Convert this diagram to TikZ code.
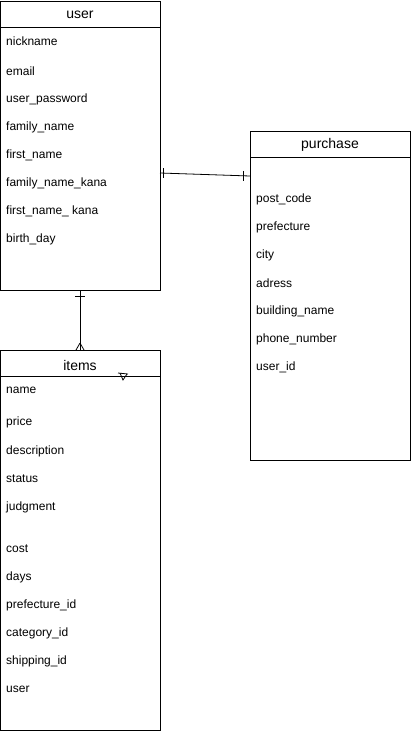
\documentclass[tikz,border=0pt]{standalone}
\usepackage{fontspec}
\setmainfont{Liberation Sans}
\usetikzlibrary{calc}
\tikzset{
  entity/.style={draw, line width=1pt, anchor=north west, minimum width=160pt, inner sep=0pt},
  header/.style={font=\fontsize{14}{16}\selectfont},
  field/.style={anchor=west, inner sep=0pt, font=\fontsize{12}{14}\selectfont},
  link/.style={line width=0.8pt}
}
\begin{document}
\begin{tikzpicture}[x=1pt,y=-1pt]
        \useasboundingbox (0,0) rectangle (411,734);
        % tables
        \node [entity, minimum height=289pt] (user) at (0,1) {};
        \node [entity, minimum height=329pt] (purchase) at (250,131) {};
        \node [entity, minimum height=380pt] (items) at (0,350) {};
        \draw [line width=1pt] ($(user.north west)+(0,26)$) -- ($(user.north east)+(0,26)$);
        \draw [line width=1pt] ($(purchase.north west)+(0,26)$) -- ($(purchase.north east)+(0,26)$);
        \draw [line width=1pt] ($(items.north west)+(0,26)$) -- ($(items.north east)+(0,26)$);
        \node [header] (user-title) at (80,15) {user};
        \node [header] (purchase-title) at (330,145) {purchase};
        \node [header] (items-title) at (80,365) {items};
        \foreach \y/\t in {41/nickname, 71/email, 99/user\_password, 127/family\_name,
            155/first\_name, 183/family\_name\_kana, 211/first\_name\_ kana, 239/birth\_day}{
          \node [field] (user-\y) at (6,\y) {\t};
        }
        \foreach \y/\t in {199/post\_code, 227/prefecture, 255/city, 283/adress,
            311/building\_name, 339/phone\_number, 367/user\_id}{
          \node [field] (purchase-\y) at (256,\y) {\t};
        }
        \foreach \y/\t in {390/name, 422/price, 451/description, 479/status, 507/judgment,
            549/cost, 577/days, 605/prefecture\_id, 633/category\_id, 661/shipping\_id, 689/user}{
          \node [field] (items-\y) at (6,\y) {\t};
        }
        % user -- purchase
        \coordinate (u1) at (160,173);
        \coordinate (p1) at (250,176);
        \draw [link] (u1) -- (p1);
        \draw [link] ($(u1)!3pt!(p1)$) ++(0,-5) -- ++(0,10);
        \draw [link] ($(p1)!7pt!(u1)$) ++(0,-5) -- ++(0,10);
        % user -- items
        \coordinate (u2) at (80,290);
        \coordinate (i1) at (80,350);
        \draw [link] (u2) -- (i1);
        \draw [link] ($(u2)!6pt!(i1)$) ++(-5,0) -- ++(10,0);
        \draw [link] ($(i1)!7pt!(u2)$) -- ++(-4,7);
        \draw [link] ($(i1)!7pt!(u2)$) -- ++(4,7);
        % stray tip
        \draw [line width=0.8pt] (118,373) -- (128,374);
        \draw [line width=0.8pt] (120,373) -- (123,380) -- (127,374);
      \end{tikzpicture}
\end{document}
